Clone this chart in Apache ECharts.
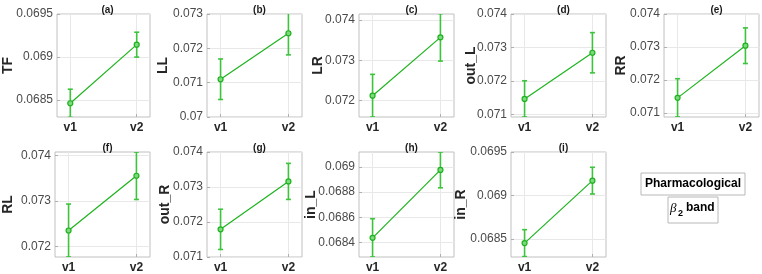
<!DOCTYPE html>
<html>
<head>
<meta charset="utf-8">
<script src="https://cdn.jsdelivr.net/npm/echarts@6/dist/echarts.min.js"></script>
<style>html,body{margin:0;padding:0;background:#fff}#c{width:762px;height:274px}</style>
</head>
<body>
<div id="c"></div>
<script>
const categories = ['v1', 'v2'];
const panelNames = ['TF', 'LL', 'LR', 'out_L', 'RR', 'RL', 'out_R', 'in_L', 'in_R'];
const panelTitles = ['(a)', '(b)', '(c)', '(d)', '(e)', '(f)', '(g)', '(h)', '(i)'];
const meanV1 = [0.06846, 0.0711, 0.07212, 0.07147, 0.07146, 0.07235, 0.07179, 0.068437, 0.06845];
const meanV2 = [0.069143, 0.07244, 0.07357, 0.072845, 0.07304, 0.07355, 0.07316, 0.068976, 0.06917];
const errV1 = [0.000164, 0.00059, 0.00053, 0.00054, 0.00058, 0.00058, 0.000575, 0.000152, 0.000155];
const errV2 = [0.000145, 0.00063, 0.00059, 0.0006, 0.00054, 0.00052, 0.000515, 0.000142, 0.000154];
const yMin = [0.0683, 0.07, 0.07159, 0.07093, 0.07088, 0.07177, 0.071, 0.068285, 0.06829];
const yMax = [0.0695, 0.073, 0.07415, 0.074, 0.074, 0.07407, 0.074, 0.069118, 0.0695];
const yTicks = [
  [0.0685, 0.069, 0.0695],
  [0.07, 0.071, 0.072, 0.073],
  [0.072, 0.073, 0.074],
  [0.071, 0.072, 0.073, 0.074],
  [0.071, 0.072, 0.073, 0.074],
  [0.072, 0.073, 0.074],
  [0.071, 0.072, 0.073, 0.074],
  [0.0684, 0.0686, 0.0688, 0.069],
  [0.0685, 0.069, 0.0695]
];
const xTicks = [1, 2];

const nameGaps = [42, 37, 34, 33, 36, 40, 35, 41, 43];
const colLeft = [55, 207, 359, 511, 664];
const rowTop = [14, 152];
const rowH = [103, 105];
const boxW = 95;
const lineColor = '#1db31d';
const errColor = '#3cc43c';

const grids = [], xAxes = [], yAxes = [], series = [], titles = [];
for (let i = 0; i < 9; i++) {
  const r = i < 5 ? 0 : 1;
  const c = i < 5 ? i : i - 5;
  grids.push({left: colLeft[c], top: rowTop[r], width: boxW, height: rowH[r], show: true,
    borderColor: '#c0c0c0', borderWidth: 1, backgroundColor: 'transparent', containLabel: false});
  xAxes.push({type: 'value', gridIndex: i, min: 0.8, max: 2.2,
    axisLine: {show: false},
    axisTick: {show: true, inside: true, length: 3, customValues: xTicks, lineStyle: {color: '#b0b0b0'}},
    axisLabel: {customValues: xTicks, formatter: v => categories[Math.round(v) - 1],
      fontFamily: 'Liberation Sans', fontWeight: 'bold', fontSize: 12, color: '#262626', margin: 5},
    splitLine: {show: true, lineStyle: {color: '#e8e8e8', width: 1}}
  });
  yAxes.push({type: 'value', gridIndex: i, min: yMin[i], max: yMax[i],
    name: panelNames[i], nameLocation: 'middle', nameGap: nameGaps[i], nameRotate: 90,
    nameMoveOverlap: false,
    nameTextStyle: {fontFamily: 'Liberation Sans', fontWeight: 'bold', fontSize: 14, color: '#262626'},
    axisLine: {show: false},
    axisTick: {show: true, inside: true, length: 3, customValues: yTicks[i], lineStyle: {color: '#b0b0b0'}},
    axisLabel: {customValues: yTicks[i], formatter: v => String(+v.toFixed(6)),
      fontFamily: 'Liberation Sans', fontSize: 12, color: '#4a4a4a', margin: 4},
    splitLine: {show: true, lineStyle: {color: '#e8e8e8', width: 1}}
  });
  titles.push({text: panelTitles[i], left: colLeft[c] + boxW / 2, top: rowTop[r] - 14, textAlign: 'center',
    textStyle: {fontFamily: 'Liberation Sans', fontWeight: 'bold', fontSize: 10, color: '#1a1a1a'}});
  series.push({type: 'custom', xAxisIndex: i, yAxisIndex: i, clip: true, silent: true, z: 2,
    data: [[1, meanV1[i] - errV1[i], meanV1[i] + errV1[i]], [2, meanV2[i] - errV2[i], meanV2[i] + errV2[i]]],
    renderItem: function (params, api) {
      const x = api.value(0);
      const p1 = api.coord([x, api.value(1)]);
      const p2 = api.coord([x, api.value(2)]);
      const w = 2.5;
      const st = {stroke: errColor, lineWidth: 1.6};
      return {type: 'group', children: [
        {type: 'line', shape: {x1: p1[0], y1: p1[1], x2: p2[0], y2: p2[1]}, style: st},
        {type: 'line', shape: {x1: p1[0] - w, y1: p1[1], x2: p1[0] + w, y2: p1[1]}, style: st},
        {type: 'line', shape: {x1: p2[0] - w, y1: p2[1], x2: p2[0] + w, y2: p2[1]}, style: st}
      ]};
    }
  });
  series.push({type: 'line', xAxisIndex: i, yAxisIndex: i, z: 3,
    data: [[1, meanV1[i]], [2, meanV2[i]]],
    symbol: 'circle', symbolSize: 5,
    lineStyle: {color: lineColor, width: 1.2},
    itemStyle: {color: '#7ed87e', borderColor: lineColor, borderWidth: 1.2}
  });
}

const chart = echarts.init(document.getElementById('c'), null, {renderer: 'canvas'});
chart.setOption({
  animation: false,
  title: titles,
  grid: grids,
  xAxis: xAxes,
  yAxis: yAxes,
  series: series,
  graphic: [
    {type: 'rect', shape: {x: 641, y: 173, width: 104, height: 22}, style: {fill: '#fff', stroke: '#b8b8b8', lineWidth: 1}},
    {type: 'text', x: 693, y: 184, style: {text: 'Pharmacological', fontFamily: 'Liberation Sans', fontWeight: 'bold', fontSize: 12, fill: '#000', align: 'center', verticalAlign: 'middle'}},
    {type: 'rect', shape: {x: 668, y: 197, width: 50, height: 26}, style: {fill: '#fff', stroke: '#b8b8b8', lineWidth: 1}},
    {type: 'text', x: 670, y: 209, style: {text: 'β', fontFamily: 'Liberation Serif', fontStyle: 'italic', fontSize: 13, fill: '#000', align: 'left', verticalAlign: 'middle'}},
    {type: 'text', x: 678, y: 214, style: {text: '2', fontFamily: 'Liberation Sans', fontWeight: 'bold', fontSize: 9, fill: '#000', align: 'left', verticalAlign: 'middle'}},
    {type: 'text', x: 686, y: 208, style: {text: 'band', fontFamily: 'Liberation Sans', fontWeight: 'bold', fontSize: 12, fill: '#000', align: 'left', verticalAlign: 'middle'}}
  ]
});
</script>
</body>
</html>
